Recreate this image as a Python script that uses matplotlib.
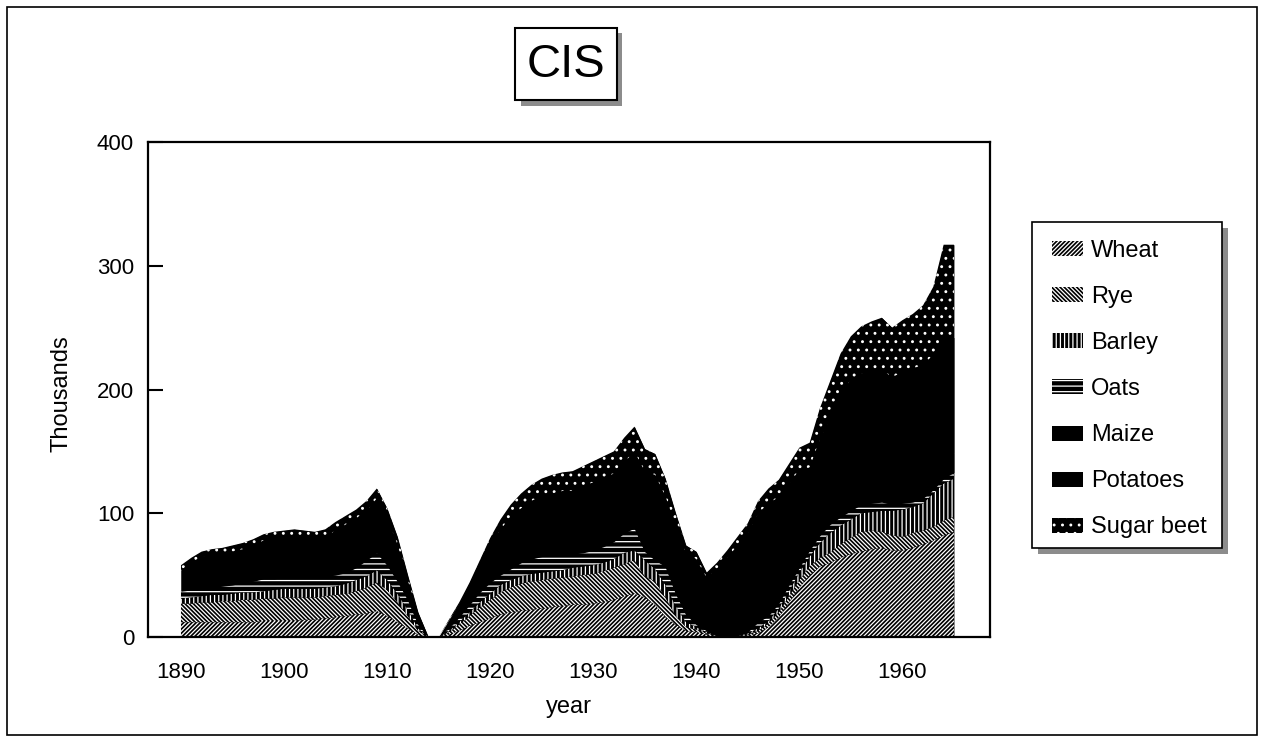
import numpy as np
import matplotlib
matplotlib.use("Agg")
import matplotlib.pyplot as plt
from matplotlib.patches import Rectangle

plt.rcParams['font.family'] = ['Liberation Sans', 'DejaVu Sans']
plt.rcParams['hatch.linewidth'] = 0.9

years = np.arange(1890, 1966)

# values, thousands, one per year 1890..1965
wheat = [12, 12, 12, 12, 12, 12, 12, 12, 13, 13,
         13, 13, 14, 14, 15, 16, 17, 18, 19, 21,
         17, 12, 7, 2, 0, 0, 2, 5, 9, 12,
         15, 18, 20, 21, 22, 23, 24, 25, 26, 26,
         27, 28, 30, 33, 35, 32, 26, 16, 10, 5,
         4, 2, 1, 1, 1, 1, 3, 8, 16, 28,
         40, 50, 57, 60, 64, 67, 69, 71, 72, 70,
         70, 72, 75, 78, 82, 85]
rye = [15, 15, 16, 16, 17, 17, 18, 18, 18, 18,
       19, 19, 18, 18, 18, 18, 18, 19, 21, 23,
       21, 16, 10, 3, 0, 0, 2, 5, 8, 12,
       15, 18, 20, 22, 23, 23, 23, 23, 23, 24,
       24, 25, 26, 26, 27, 17, 19, 16, 7, 3,
       2, 1, 0, 0, 0, 1, 2, 3, 4, 5,
       6, 7, 7, 8, 11, 13, 16, 15, 13, 12,
       11, 12, 11, 11, 12, 12]
barley = [4, 5, 5, 6, 5, 6, 6, 6, 6, 7,
          7, 7, 7, 7, 7, 7, 8, 9, 9, 10,
          8, 7, 5, 2, 0, 0, 1, 2, 3, 4,
          5, 6, 6, 6, 6, 6, 6, 6, 7, 7,
          7, 7, 7, 9, 8, 13, 10, 10, 8, 4,
          2, 1, 0, 0, 0, 1, 2, 2, 3, 4,
          6, 8, 12, 16, 15, 15, 15, 15, 17, 20,
          22, 21, 22, 27, 30, 31]
oats = [6, 6, 6, 6, 7, 7, 8, 9, 10, 9,
        9, 9, 9, 9, 9, 9, 9, 10, 13, 14,
        12, 10, 8, 3, 0, 0, 2, 4, 6, 8,
        9, 8, 9, 11, 12, 13, 13, 12, 11, 11,
        12, 13, 14, 16, 18, 7, 7, 15, 10, 6,
        2, 1, 0, 0, 0, 1, 5, 4, 4, 5,
        4, 5, 6, 7, 7, 7, 7, 7, 7, 5,
        5, 4, 4, 3, 4, 5]
maize = [3, 3, 3, 3, 3, 3, 3, 3, 3, 3,
         4, 4, 4, 4, 4, 4, 4, 4, 5, 5,
         4, 4, 3, 2, 0, 0, 1, 2, 3, 4,
         5, 5, 6, 6, 6, 6, 6, 6, 6, 6,
         6, 6, 6, 7, 7, 6, 6, 5, 4, 4,
         4, 3, 3, 3, 3, 4, 5, 6, 6, 7,
         7, 8, 9, 10, 11, 12, 12, 13, 13, 13,
         14, 14, 15, 15, 16, 16]
potatoes = [14, 19, 23, 23, 23, 24, 24, 26, 28, 29,
            28, 29, 28, 27, 28, 32, 35, 36, 35, 39,
            35, 26, 13, 7, 0, 0, 5, 8, 12, 17,
            25, 32, 36, 38, 41, 43, 44, 46, 45, 48,
            49, 50, 49, 50, 55, 59, 63, 52, 51, 46,
            49, 40, 51, 60, 70, 76, 83, 85, 80, 75,
            72, 59, 69, 76, 89, 94, 94, 94, 94, 90,
            92, 94, 93, 94, 98, 93]
sugar_beet = [4, 4, 4, 5, 5, 5, 5, 5, 5, 6,
              6, 6, 6, 6, 6, 7, 7, 7, 8, 8,
              7, 6, 4, 1, 0, 0, 1, 2, 3, 5,
              6, 8, 10, 12, 13, 14, 15, 15, 16, 16,
              17, 17, 18, 20, 20, 18, 17, 14, 10, 6,
              6, 4, 5, 6, 7, 8, 10, 12, 14, 16,
              18, 20, 25, 30, 32, 35, 38, 40, 42, 40,
              42, 44, 48, 55, 75, 75]

names = ["Wheat", "Rye", "Barley", "Oats", "Maize", "Potatoes", "Sugar beet"]
hatches = ["////////", "\\" * 8, "||||", "---", None, None, ".."]

W, H = 1264, 741
fig = plt.figure(figsize=(W / 100, H / 100), dpi=100)

def fx(x):
    return x / W

def fy(y):
    return 1 - y / H

# outer frame
fig.patches.append(Rectangle((fx(7), fy(735)), fx(1257) - fx(7), fy(7) - fy(735),
                             transform=fig.transFigure, fill=False, ec="black", lw=1.2))

ax = fig.add_axes([fx(148), fy(637), fx(990) - fx(148), fy(142) - fy(637)])
total = np.sum([wheat, rye, barley, oats, maize, potatoes, sugar_beet], axis=0)
# black underlay so no light seams show between the layers
ax.fill_between(years, 0, total, color="black", lw=0, zorder=0.5)
polys = ax.stackplot(years, wheat, rye, barley, oats, maize, potatoes, sugar_beet,
                     labels=names)
for p, h in zip(polys, hatches):
    p.set_facecolor("black")
    if h:
        p.set_hatch(h)
        p.set_edgecolor("white")
    else:
        p.set_edgecolor("black")
    p.set_linewidth(0)

ax.set_xlim(1886.8, 1968.5)
ax.set_ylim(0, 400)
ax.set_xticks(np.arange(1890, 1961, 10))
ax.set_yticks(np.arange(0, 401, 100))
ax.tick_params(axis="x", length=0, pad=18, labelsize=16)
ax.tick_params(axis="y", direction="in", length=11, width=1.5, pad=10, labelsize=16)
for s in ax.spines.values():
    s.set_linewidth(1.6)

fig.text(fx(62), fy(394), "Thousands", rotation=90, ha="center", va="center", fontsize=17)
fig.text(fx(569), fy(707), "year", ha="center", va="center", fontsize=17)

# title box with shadow
fig.patches.append(Rectangle((fx(521), fy(106)), fx(622) - fx(521), fy(33) - fy(106),
                             transform=fig.transFigure, fc="0.55", ec="none"))
fig.patches.append(Rectangle((fx(515), fy(100)), fx(617) - fx(515), fy(28) - fy(100),
                             transform=fig.transFigure, fc="white", ec="black", lw=1.5))
fig.text(fx(566), fy(65), "CIS", ha="center", va="center", fontsize=34)

# legend box with shadow
fig.patches.append(Rectangle((fx(1038), fy(554)), fx(1228) - fx(1038), fy(228) - fy(554),
                             transform=fig.transFigure, fc="0.55", ec="none"))
fig.patches.append(Rectangle((fx(1032), fy(548)), fx(1222) - fx(1032), fy(222) - fy(548),
                             transform=fig.transFigure, fc="white", ec="black", lw=1.2))
leg = fig.legend(handles=polys, labels=names, loc="upper left",
                 bbox_to_anchor=(fx(1052), fy(240)), frameon=False, fontsize=17,
                 labelspacing=1.02, handlelength=1.3, handleheight=0.6,
                 handletextpad=0.35, borderpad=0, borderaxespad=0)

fig.savefig("out.png", dpi=100)
